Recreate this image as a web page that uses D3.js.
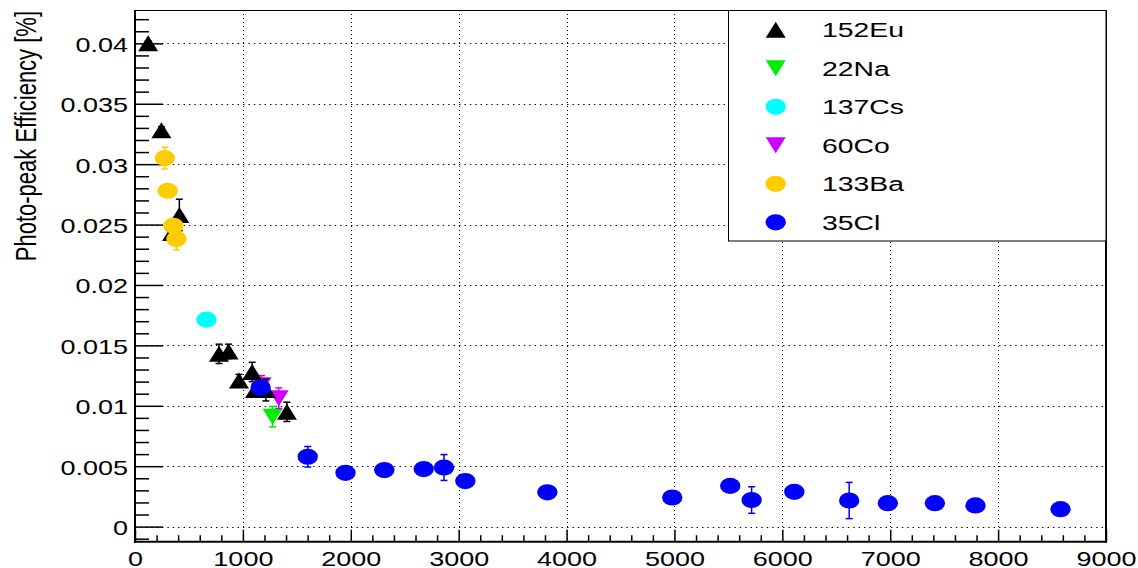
<!DOCTYPE html>
<html>
<head>
<meta charset="utf-8">
<script src="https://cdn.jsdelivr.net/npm/d3@7/dist/d3.min.js"></script>
<style>
  html, body { margin: 0; padding: 0; background: #fff; }
  svg { display: block; font-family: "Liberation Sans", Arial, Helvetica, sans-serif; }
</style>
</head>
<body>
<svg id="chart" width="1138" height="568"></svg>
<script>
// Photo-peak efficiency vs gamma energy (keV) for several calibration sources

const eu152Energy = [121.8, 244.7, 344.3, 411.1, 778.9, 867.4, 964.1, 1085.8, 1112.1, 1212.9, 1408.0];
const eu152Eff    = [0.0400, 0.0328, 0.0243, 0.0258, 0.0143, 0.0145, 0.0121, 0.0128, 0.0113, 0.0113, 0.0095];
const eu152Err    = [0.0002, 0.0003, 0.0005, 0.0013, 0.0008, 0.0006, 0.0005, 0.0008, 0.0005, 0.0009, 0.0008];

const na22Energy = [1274.5];
const na22Eff    = [0.0091];
const na22Err    = [0.00085];

const cs137Energy = [661.7];
const cs137Eff    = [0.01713];
const cs137Err    = [0.0003];

const co60Energy = [1173.2, 1332.5];
const co60Eff    = [0.0117, 0.01063];
const co60Err    = [0.0008, 0.00085];

const ba133Energy = [276.4, 302.9, 356.0, 383.8];
const ba133Eff    = [0.0305, 0.0278, 0.0249, 0.0238];
const ba133Err    = [0.0009, 0.0004, 0.0004, 0.0009];

const cl35Energy = [1164.9, 1601.1, 1951.1, 2311, 2676, 2863.8, 3061.8, 3822, 4979.7, 5517.1, 5715.2, 6110.8, 6619.6, 6977.8, 7413.9, 7790.3, 8578.6];
const cl35Eff    = [0.01151, 0.00578, 0.00445, 0.00468, 0.00476, 0.00489, 0.00377, 0.00284, 0.00241, 0.00337, 0.0022, 0.00288, 0.00216, 0.00194, 0.00194, 0.00175, 0.00144];
const cl35Err    = [0.0003, 0.00085, 0.0003, 0.0003, 0.0003, 0.00107, 0.0003, 0.0003, 0.0004, 0.0003, 0.0011, 0.0003, 0.0015, 0.0003, 0.0003, 0.0003, 0.0003];

const xTickValues = [0, 1000, 2000, 3000, 4000, 5000, 6000, 7000, 8000, 9000];
const xTickLabels = ["0", "1000", "2000", "3000", "4000", "5000", "6000", "7000", "8000", "9000"];
const yTickValues = [0, 0.005, 0.01, 0.015, 0.02, 0.025, 0.03, 0.035, 0.04];
const yTickLabels = ["0", "0.005", "0.01", "0.015", "0.02", "0.025", "0.03", "0.035", "0.04"];
const yTitle = "Photo-peak Efficiency [%]";

// Series, in legend order; drawOrder controls stacking of overlapping markers
const series = [
  { name: "152Eu", energy: eu152Energy, eff: eu152Eff, err: eu152Err, color: "#000000", shape: "up",     drawOrder: 2 },
  { name: "22Na",  energy: na22Energy,  eff: na22Eff,  err: na22Err,  color: "#00ee00", shape: "down",   drawOrder: 0 },
  { name: "137Cs", energy: cs137Energy, eff: cs137Eff, err: cs137Err, color: "#00ffff", shape: "circle", drawOrder: 3 },
  { name: "60Co",  energy: co60Energy,  eff: co60Eff,  err: co60Err,  color: "#cc00ff", shape: "down",   drawOrder: 1 },
  { name: "133Ba", energy: ba133Energy, eff: ba133Eff, err: ba133Err, color: "#ffcc00", shape: "circle", drawOrder: 4 },
  { name: "35Cl",  energy: cl35Energy,  eff: cl35Eff,  err: cl35Err,  color: "#0000ff", shape: "circle", drawOrder: 5 }
];

// Geometry
const frame = { left: 135, right: 1106, top: 10, bottom: 541.7 };
const stretch = 1.35;   // horizontal text stretch

const x = d3.scaleLinear().domain([0, 9000]).range([frame.left, frame.right]);
const y = d3.scaleLinear().domain([-0.00125, 0.04276]).range([frame.bottom, frame.top]);

const svg = d3.select("#chart");

// Grid (dotted, at major ticks)
const grid = svg.append("g").attr("stroke", "#000").attr("stroke-width", 1).attr("fill", "none");
grid.selectAll("line.hy").data(yTickValues).join("line")
  .attr("x1", frame.left).attr("x2", frame.right)
  .attr("y1", d => Math.round(y(d)) + 0.5).attr("y2", d => Math.round(y(d)) + 0.5)
  .attr("stroke-dasharray", "1.4,4");
grid.selectAll("line.vx").data(xTickValues.filter(v => v > 0 && v < 9000)).join("line")
  .attr("x1", d => Math.round(x(d)) + 0.5).attr("x2", d => Math.round(x(d)) + 0.5)
  .attr("y1", frame.top).attr("y2", frame.bottom)
  .attr("stroke-dasharray", "1,3");

// Minor tick values
const yMinor = d3.range(-1, 43).map(i => i * 0.001).filter(v => Math.abs(v * 200 - Math.round(v * 200)) > 1e-6);
const xMinor = d3.range(0, 46).map(i => i * 200).filter(v => v % 1000 !== 0);

// Y axis (ticks drawn inward)
const yAxisG = svg.append("g").attr("transform", `translate(${frame.left},0)`);
yAxisG.call(d3.axisLeft(y).tickValues(yTickValues)
  .tickFormat((d, i) => yTickLabels[i]).tickSizeInner(-28).tickSizeOuter(0).tickPadding(7));
const yMinorG = svg.append("g").attr("transform", `translate(${frame.left},0)`);
yMinorG.call(d3.axisLeft(y).tickValues(yMinor).tickFormat("").tickSizeInner(-14).tickSizeOuter(0));

// X axis (ticks drawn inward)
const xAxisG = svg.append("g").attr("transform", `translate(0,${frame.bottom})`);
xAxisG.call(d3.axisBottom(x).tickValues(xTickValues)
  .tickFormat((d, i) => xTickLabels[i]).tickSizeInner(-12).tickSizeOuter(0));
const xMinorG = svg.append("g").attr("transform", `translate(0,${frame.bottom})`);
xMinorG.call(d3.axisBottom(x).tickValues(xMinor).tickFormat("").tickSizeInner(-6.5).tickSizeOuter(0));

[yAxisG, yMinorG, xAxisG, xMinorG].forEach(g => {
  g.select(".domain").remove();
  g.selectAll(".tick line").attr("stroke", "#000").attr("stroke-width", 1.5);
});

yAxisG.selectAll(".tick text")
  .attr("x", null).attr("dy", null)
  .attr("transform", `translate(-7,8) scale(${stretch},1)`)
  .attr("font-size", 20).attr("fill", "#000")
  .attr("font-family", "Liberation Sans, Arial, sans-serif");

xAxisG.selectAll(".tick text")
  .attr("y", null).attr("dy", null)
  .attr("transform", `translate(0,23.8) scale(${stretch},1)`)
  .attr("text-anchor", "middle")
  .attr("font-size", 20).attr("fill", "#000")
  .attr("font-family", "Liberation Sans, Arial, sans-serif");

// Frame
const fr = svg.append("g").attr("stroke", "#000").attr("fill", "none");
fr.append("line").attr("x1", frame.left).attr("x2", frame.right).attr("y1", frame.top + 0.5).attr("y2", frame.top + 0.5).attr("stroke-width", 1);
fr.append("line").attr("x1", frame.right).attr("x2", frame.right).attr("y1", frame.top).attr("y2", frame.bottom + 1).attr("stroke-width", 2);
fr.append("line").attr("x1", frame.left).attr("x2", frame.left).attr("y1", frame.top).attr("y2", frame.bottom + 1).attr("stroke-width", 2);
fr.append("line").attr("x1", frame.left - 1).attr("x2", frame.right + 1).attr("y1", frame.bottom).attr("y2", frame.bottom).attr("stroke-width", 2);

// Y title
svg.append("text")
  .attr("transform", `translate(36,11) scale(${stretch},1) rotate(-90)`)
  .attr("text-anchor", "end")
  .attr("font-size", 22)
  .attr("fill", "#000")
  .text(yTitle);

// Marker shapes
const mrx = 10.2, mry = 8.1, trx = 10, trh = 8;
function drawMarker(g, shape, cx, cy, color) {
  if (shape === "circle") {
    g.append("ellipse").attr("cx", cx).attr("cy", cy).attr("rx", mrx).attr("ry", mry).attr("fill", color);
  } else {
    const s = shape === "up" ? 1 : -1;
    const pts = [[cx - trx, cy + s * trh], [cx + trx, cy + s * trh], [cx, cy - s * trh]];
    g.append("polygon").attr("points", pts.map(p => p.join(",")).join(" ")).attr("fill", color);
  }
}

// Points with error bars
const plot = svg.append("g");
series.slice().sort((a, b) => a.drawOrder - b.drawOrder).forEach(s => {
  const g = plot.append("g");
  s.energy.forEach((e, i) => {
    const cx = x(e), cy = y(s.eff[i]);
    const yTop = y(s.eff[i] + s.err[i]), yBot = y(s.eff[i] - s.err[i]);
    g.append("line").attr("x1", cx).attr("x2", cx).attr("y1", yTop).attr("y2", yBot)
      .attr("stroke", s.color).attr("stroke-width", 1.5);
    [yTop, yBot].forEach(yy => g.append("line")
      .attr("x1", cx - 3.5).attr("x2", cx + 3.5).attr("y1", yy).attr("y2", yy)
      .attr("stroke", s.color).attr("stroke-width", 1.5));
  });
  s.energy.forEach((e, i) => drawMarker(g, s.shape, x(e), y(s.eff[i]), s.color));
});

// Legend
const legend = svg.append("g");
legend.append("rect")
  .attr("x", 728.5).attr("y", 10.5).attr("width", 1106 - 728.5).attr("height", 241 - 10.5)
  .attr("fill", "#fff").attr("stroke", "#000").attr("stroke-width", 1);
series.forEach((s, i) => {
  const cy = 29.8 + i * 38.5;
  drawMarker(legend, s.shape, 775.7, cy, s.color);
  legend.append("text")
    .attr("transform", `translate(822,${cy + 7.5}) scale(${stretch},1)`)
    .attr("font-size", 21).attr("fill", "#000")
    .text(s.name);
});
</script>
</body>
</html>
